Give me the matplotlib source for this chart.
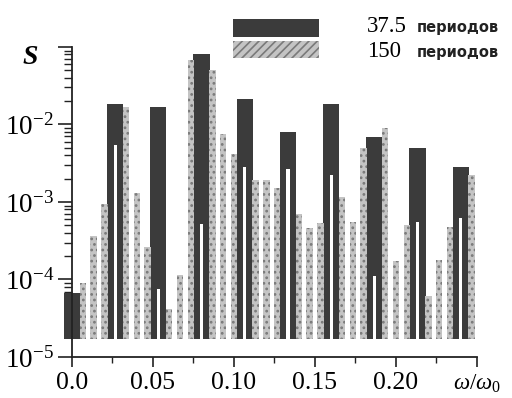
import numpy as np
import matplotlib
matplotlib.use('Agg')
import matplotlib.pyplot as plt
from matplotlib.patches import Rectangle
from matplotlib.ticker import LogLocator, NullFormatter, FixedLocator

# ---- data ----
freq_375 = [0.0, 0.02667, 0.05333, 0.08, 0.10667, 0.13333, 0.16, 0.18667, 0.21333, 0.24]
S_375 = [6.7e-5, 1.83e-2, 1.66e-2, 8.1e-2, 2.1e-2, 7.9e-3, 1.83e-2, 6.8e-3, 4.9e-3, 2.8e-3]

# 150-period spectrum: values coinciding with 37.5-period lines (shown as white gaps)
freq_150_c = [0.02667, 0.05333, 0.08, 0.10667, 0.13333, 0.16, 0.18667, 0.21333, 0.24]
S_150_c = [5.5e-3, 7.5e-5, 5.2e-4, 2.8e-3, 2.7e-3, 2.2e-3, 1.1e-4, 5.6e-4, 6.3e-4]

# 150-period spectrum: other lines
freq_150 = [0.00667, 0.01333, 0.02, 0.03333, 0.04, 0.04667, 0.06, 0.06667, 0.07333,
            0.08667, 0.09333, 0.1, 0.11333, 0.12, 0.12667, 0.14, 0.14667, 0.15333,
            0.16667, 0.17333, 0.18, 0.19333, 0.2, 0.20667, 0.22, 0.22667, 0.23333, 0.24667]
S_150 = [9.1e-5, 3.6e-4, 9.3e-4, 1.7e-2, 1.29e-3, 2.6e-4, 4.2e-5, 1.14e-4, 6.7e-2,
         5.0e-2, 7.6e-3, 4.1e-3, 1.94e-3, 1.94e-3, 1.5e-3, 7.1e-4, 4.6e-4, 5.4e-4,
         1.15e-3, 5.6e-4, 4.9e-3, 9.1e-3, 1.74e-4, 5.1e-4, 6.1e-5, 1.8e-4, 4.8e-4, 2.2e-3]

x_ticks = [0.0, 0.05, 0.10, 0.15, 0.20, 0.25]
x_labels = ['0.0', '0.05', '0.10', '0.15', '0.20', r'$\omega/\omega_0$']
y_ticks = [1e-5, 1e-4, 1e-3, 1e-2, 1e-1]
y_labels = [r'$\mathregular{10^{-5}}$', r'$\mathregular{10^{-4}}$', r'$\mathregular{10^{-3}}$',
            r'$\mathregular{10^{-2}}$', '']
legend_nums = ['37.5', '150']
legend_word = 'периодов'

# ---- style ----
plt.rcParams['font.family'] = ['Liberation Serif', 'DejaVu Serif']
plt.rcParams['mathtext.fontset'] = 'custom'
plt.rcParams['mathtext.rm'] = 'Liberation Serif'
plt.rcParams['mathtext.it'] = 'Liberation Serif:italic'
plt.rcParams['hatch.linewidth'] = 1.2

dark = '#3b3b3b'
light_face = '#c4c4c4'
light_hatch = '#7a7a7a'
base = 1.7e-5

fig = plt.figure(figsize=(5.12, 3.98), dpi=100)
ax = fig.add_axes([0.1406, 0.103, 0.791, 0.779])

ax.bar(freq_375, np.array(S_375) - base, bottom=base, width=0.0100,
       color=dark, linewidth=0, zorder=2, clip_on=False)
ax.bar(freq_150, np.array(S_150) - base, bottom=base, width=0.0040,
       facecolor=light_face, edgecolor=light_hatch, hatch='...', linewidth=0, zorder=3,
       clip_on=False)
ax.bar(freq_150_c, np.array(S_150_c) - base, bottom=base, width=0.0019,
       color='white', linewidth=0, zorder=4, clip_on=False)

ax.set_yscale('log')
ax.set_ylim(1e-5, 1e-1)
ax.set_xlim(0, 0.25)

for s in ['top', 'right']:
    ax.spines[s].set_visible(False)
for s in ['left', 'bottom']:
    ax.spines[s].set_linewidth(1.3)
    ax.spines[s].set_color('#222222')
    ax.spines[s].set_zorder(5)

ax.yaxis.set_major_locator(FixedLocator(y_ticks))
ax.set_yticklabels(y_labels)
ax.yaxis.set_minor_locator(LogLocator(base=10, subs=np.arange(2, 10)))
ax.yaxis.set_minor_formatter(NullFormatter())

ax.set_xticks(x_ticks)
ax.set_xticklabels(x_labels)
ax.set_xticks([0.025, 0.075, 0.125, 0.175, 0.225], minor=True)

ax.tick_params(axis='both', which='major', direction='out', labelsize=19.5,
               width=1.2, color='#222222')
ax.tick_params(axis='y', which='major', length=10, pad=3)
ax.tick_params(axis='y', which='minor', direction='out', length=5.5, width=1.0, color='#222222')
ax.tick_params(axis='x', which='major', length=7, pad=4, labelsize=18.5)
ax.tick_params(axis='x', which='minor', direction='out', length=4, width=1.0, color='#222222')
ax.get_xticklabels()[-1].set_fontsize(16.5)

fig.text(30 / 512, 1 - 57 / 398, 'S', fontsize=20, style='italic', fontweight='bold',
         ha='center', va='center')

# legend
fig.patches.append(Rectangle((233 / 512, 1 - 37 / 398), 86 / 512, 18 / 398,
                             transform=fig.transFigure, facecolor=dark, linewidth=0))
fig.patches.append(Rectangle((233 / 512, 1 - 58 / 398), 86 / 512, 17 / 398,
                             transform=fig.transFigure, facecolor=light_face,
                             edgecolor=light_hatch, hatch='////', linewidth=0))
for i, (num, yb) in enumerate(zip(legend_nums, [32, 57])):
    fig.text(367 / 512, 1 - yb / 398, num, fontsize=16.5, ha='left', va='baseline')
    fig.text(417 / 512, 1 - yb / 398, legend_word, fontsize=10.5, fontweight='bold',
             family=['DejaVu Sans'], ha='left', va='baseline', color='#222222')

fig.savefig('out.png', dpi=100)
